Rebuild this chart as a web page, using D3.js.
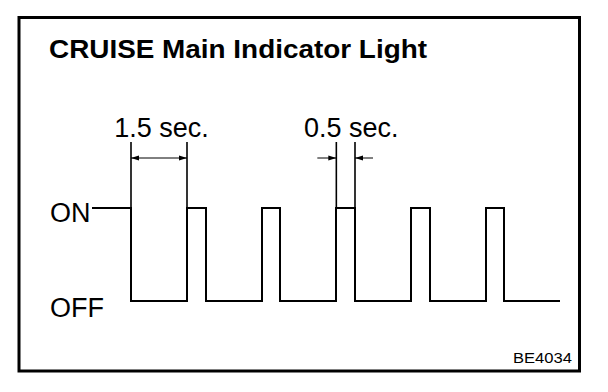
<!DOCTYPE html>
<html>
<head>
  <meta charset="utf-8">
  <title>CRUISE Main Indicator Light</title>
  <script src="https://d3js.org/d3.v7.min.js"></script>
  <style>
  body { margin: 0; background: white; }
  text { font-family: "Liberation Sans", Arial, sans-serif; fill: black; }
  </style>
</head>
<body>
  <div id='container'></div>
  <script>

  // signal timeline, seconds ; level 1 = ON, 0 = OFF
  var steps = [
    {t: -1.05, level: 1},
    {t: 0,     level: 0},
    {t: 1.5,   level: 1},
    {t: 2.0,   level: 0},
    {t: 3.5,   level: 1},
    {t: 4.0,   level: 0},
    {t: 5.5,   level: 1},
    {t: 6.0,   level: 0},
    {t: 7.5,   level: 1},
    {t: 8.0,   level: 0},
    {t: 9.5,   level: 1},
    {t: 10.0,  level: 0},
    {t: 11.5,  level: 0}
  ]

  var levelLabels = ['OFF', 'ON']

  // dimension marks
  var dims = [
    {from: 0,   to: 1.5, label: '1.5 sec.', inside: true},
    {from: 5.5, to: 6.0, label: '0.5 sec.', inside: false}
  ]

  var title = 'CRUISE Main Indicator Light'
  var code = 'BE4034'

  const width = 608
  const height = 392

  var svg = d3.select('#container')
    .append('svg')
    .attr('width', width)
    .attr('height', height)

  var xScale = d3.scaleLinear()
    .domain([0, 1.5])
    .range([131, 187])

  var yScale = d3.scaleLinear()
    .domain([0, 1])
    .range([301, 208])

  // frame
  svg.append('rect')
    .attr('x', 19)
    .attr('y', 17.5)
    .attr('width', 560.5)
    .attr('height', 353.5)
    .style('fill', 'none')
    .style('stroke', 'black')
    .style('stroke-width', 3)

  svg.append('text')
    .attr('x', 49)
    .attr('y', 58)
    .attr('textLength', 378)
    .attr('lengthAdjust', 'spacingAndGlyphs')
    .style('font-size', '25.5px')
    .style('font-weight', 'bold')
    .text(title)

  svg.append('text')
    .attr('x', 513)
    .attr('y', 362.5)
    .attr('textLength', 59)
    .attr('lengthAdjust', 'spacingAndGlyphs')
    .style('font-size', '14px')
    .text(code)

  // ON / OFF labels
  svg.selectAll('.lvl')
    .data(levelLabels)
    .enter()
    .append('text')
    .classed('lvl', true)
    .attr('x', 50)
    .attr('y', (d, i) => yScale(i) + (i ? 14 : 16))
    .style('font-size', '27px')
    .text((d) => d)

  // waveform
  var line = d3.line()
    .x((d) => xScale(d.t))
    .y((d) => yScale(d.level))
    .curve(d3.curveStepAfter)

  svg.append('path')
    .datum(steps)
    .attr('d', line)
    .style('fill', 'none')
    .style('stroke', 'black')
    .style('stroke-width', 2.2)
    .style('shape-rendering', 'crispEdges')

  var extTop = 142
  var arrowY = 158

  function arrowHead(g, x, dir){
    // dir = +1 points right, -1 points left
    g.append('path')
      .attr('d', 'M' + x + ',' + arrowY +
        'L' + (x - dir * 8) + ',' + (arrowY - 2.5) +
        'L' + (x - dir * 8) + ',' + (arrowY + 2.5) + 'Z')
      .style('fill', 'black')
  }

  dims.forEach(function(d){
    var g = svg.append('g')
    var x1 = xScale(d.from), x2 = xScale(d.to)

    ;[x1, x2].forEach(function(x){
      g.append('line')
        .attr('x1', x).attr('x2', x)
        .attr('y1', extTop).attr('y2', yScale(1))
        .style('stroke', 'black')
        .style('stroke-width', 1.6)
    })

    if (d.inside) {
      g.append('line')
        .attr('x1', x1).attr('x2', x2)
        .attr('y1', arrowY).attr('y2', arrowY)
        .style('stroke', 'black')
        .style('stroke-width', 1)
      arrowHead(g, x1, -1)
      arrowHead(g, x2, 1)
    } else {
      g.append('line')
        .attr('x1', x1 - 19).attr('x2', x1)
        .attr('y1', arrowY).attr('y2', arrowY)
        .style('stroke', 'black')
        .style('stroke-width', 1)
      g.append('line')
        .attr('x1', x2).attr('x2', x2 + 18)
        .attr('y1', arrowY).attr('y2', arrowY)
        .style('stroke', 'black')
        .style('stroke-width', 1)
      arrowHead(g, x1, 1)
      arrowHead(g, x2, -1)
    }

    g.append('text')
      .attr('x', (x1 + x2) / 2 + (d.inside ? 2.5 : 5.5))
      .attr('y', 136.5)
      .attr('text-anchor', 'middle')
      .style('font-size', '27px')
      .text(d.label)
  })

  </script>
</body>
</html>
